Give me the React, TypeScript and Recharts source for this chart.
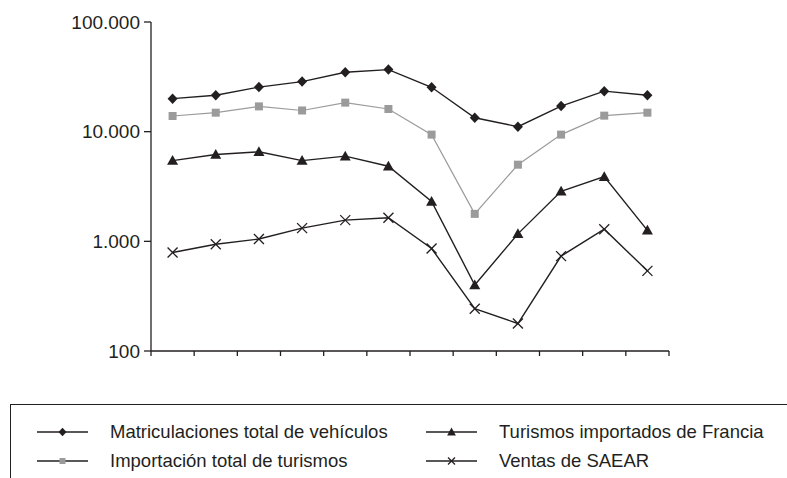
import React from 'react';
import { LineChart, Line, XAxis, YAxis } from 'recharts';

// Periods along the horizontal axis (unlabelled)
const periods = [1, 2, 3, 4, 5, 6, 7, 8, 9, 10, 11, 12];

// Series values (log scale)
const matriculaciones = [20000, 21500, 25500, 28600, 34800, 36800, 25400, 13400, 11100, 17100, 23400, 21500];
const importacion = [13900, 14900, 17000, 15600, 18400, 16100, 9400, 1780, 5000, 9400, 14000, 14900];
const turismosFrancia = [5450, 6200, 6550, 5450, 5980, 4840, 2310, 400, 1170, 2860, 3890, 1260];
const ventasSaear = [790, 940, 1050, 1320, 1560, 1640, 860, 243, 178, 733, 1290, 538];

const yTicks = [100, 1000, 10000, 100000];
// Tick marks sit between periods
const periodBounds = [0.5, 1.5, 2.5, 3.5, 4.5, 5.5, 6.5, 7.5, 8.5, 9.5, 10.5, 11.5, 12.5];

const seriesNames = [
  'Matriculaciones total de vehículos',
  'Importación total de turismos',
  'Turismos importados de Francia',
  'Ventas de SAEAR',
];

const data = periods.map((p, i) => ({
  period: p,
  matriculaciones: matriculaciones[i],
  importacion: importacion[i],
  turismosFrancia: turismosFrancia[i],
  ventasSaear: ventasSaear[i],
}));

const INK = '#231f20';
const GREY = '#9b9b9b';
const FONT = '"Liberation Sans", Arial, Helvetica, sans-serif';

const formatThousands = (v: number) => String(v).replace(/\B(?=(\d{3})+(?!\d))/g, '.');

type Shape = 'diamond' | 'square' | 'triangle' | 'cross';

const Marker = ({ shape, cx, cy, s }: { shape: Shape; cx: number; cy: number; s: number }) => {
  if (shape === 'diamond') {
    return (
      <polygon
        points={`${cx},${cy - s * 1.05} ${cx + s},${cy} ${cx},${cy + s * 1.05} ${cx - s},${cy}`}
        fill={INK}
      />
    );
  }
  if (shape === 'square') {
    return <rect x={cx - s} y={cy - s} width={s * 2} height={s * 2} fill={GREY} />;
  }
  if (shape === 'triangle') {
    return (
      <polygon
        points={`${cx},${cy - s * 1.1} ${cx + s * 1.1},${cy + s * 0.85} ${cx - s * 1.1},${cy + s * 0.85}`}
        fill={INK}
      />
    );
  }
  return (
    <g stroke={INK} strokeWidth={1.3}>
      <line x1={cx - s} y1={cy - s} x2={cx + s} y2={cy + s} />
      <line x1={cx - s} y1={cy + s} x2={cx + s} y2={cy - s} />
    </g>
  );
};

const makeDot = (shape: Shape, s: number) => (props: any) => {
  const { cx, cy, index } = props;
  if (cx == null || cy == null) return <g key={`d-${index}`} />;
  return (
    <g key={`${shape}-${index}`}>
      <Marker shape={shape} cx={cx} cy={cy} s={s} />
    </g>
  );
};

const legendItems: { name: string; shape: Shape }[] = [
  { name: seriesNames[0], shape: 'diamond' },
  { name: seriesNames[1], shape: 'square' },
  { name: seriesNames[2], shape: 'triangle' },
  { name: seriesNames[3], shape: 'cross' },
];

const legendSmall: Record<Shape, number> = { diamond: 4, square: 3, triangle: 4, cross: 3.5 };

const LegendEntry = ({ item, left, top }: { item: (typeof legendItems)[number]; left: number; top: number }) => (
  <div style={{ position: 'absolute', left, top, height: 24, display: 'flex', alignItems: 'center' }}>
    <svg width={52} height={24} style={{ display: 'block' }}>
      <line x1={0} y1={12} x2={51} y2={12} stroke={INK} strokeWidth={1.4} />
      <Marker shape={item.shape} cx={25.5} cy={12} s={legendSmall[item.shape]} />
    </svg>
    <span
      style={{
        marginLeft: 21,
        fontFamily: FONT,
        fontSize: 18.5,
        color: INK,
        whiteSpace: 'nowrap',
        lineHeight: '24px',
      }}
    >
      {item.name}
    </span>
  </div>
);

export default function App() {
  return (
    <div
      style={{
        position: 'absolute',
        left: 0,
        top: 0,
        width: 787,
        height: 478,
        overflow: 'hidden',
        background: '#fff',
      }}
    >
      <LineChart
        width={787}
        height={478}
        data={data}
        margin={{ top: 22, right: 118, bottom: 117, left: 0 }}
      >
        <XAxis
          dataKey="period"
          type="number"
          domain={[0.5, 12.5]}
          ticks={periodBounds}
          allowDataOverflow
          height={10}
          tickFormatter={() => ''}
          tickSize={5}
          axisLine={{ stroke: INK, strokeWidth: 1.3 }}
          tickLine={{ stroke: INK, strokeWidth: 1.3 }}
        />
        <YAxis
          scale="log"
          domain={[100, 100000]}
          ticks={yTicks}
          allowDataOverflow
          width={151}
          tickSize={7}
          tickMargin={4}
          tickFormatter={formatThousands}
          axisLine={{ stroke: INK, strokeWidth: 1.3 }}
          tickLine={{ stroke: INK, strokeWidth: 1.3 }}
          tick={{ fill: INK, fontSize: 19, fontFamily: FONT }}
        />
        <Line
          dataKey="matriculaciones"
          name={seriesNames[0]}
          stroke={INK}
          strokeWidth={1.4}
          dot={makeDot('diamond', 5)}
          isAnimationActive={false}
        />
        <Line
          dataKey="importacion"
          name={seriesNames[1]}
          stroke={GREY}
          strokeWidth={1.2}
          dot={makeDot('square', 4)}
          isAnimationActive={false}
        />
        <Line
          dataKey="turismosFrancia"
          name={seriesNames[2]}
          stroke={INK}
          strokeWidth={1.4}
          dot={makeDot('triangle', 5)}
          isAnimationActive={false}
        />
        <Line
          dataKey="ventasSaear"
          name={seriesNames[3]}
          stroke={INK}
          strokeWidth={1.4}
          dot={makeDot('cross', 5)}
          isAnimationActive={false}
        />
      </LineChart>
      <div
        style={{
          position: 'absolute',
          left: 10,
          top: 404,
          width: 900,
          height: 200,
          border: `1.3px solid ${INK}`,
          boxSizing: 'border-box',
        }}
      />
      <LegendEntry item={legendItems[0]} left={37} top={420} />
      <LegendEntry item={legendItems[1]} left={37} top={449} />
      <LegendEntry item={legendItems[2]} left={426} top={420} />
      <LegendEntry item={legendItems[3]} left={426} top={449} />
    </div>
  );
}
